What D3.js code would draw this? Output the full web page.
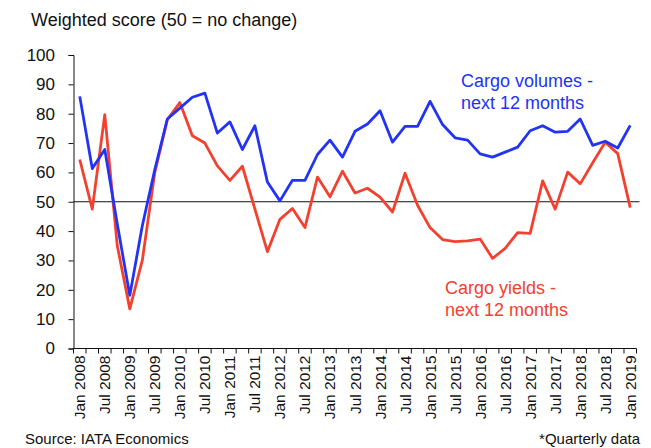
<!DOCTYPE html>
<html>
<head>
<meta charset="utf-8">
<script src="https://cdn.jsdelivr.net/npm/d3@7"></script>
<style>
  body { margin: 0; background: #fff; }
  svg text { font-family: "Liberation Sans", Arial, sans-serif; }
</style>
</head>
<body>
<svg id="chart"></svg>
<script>

// quarterly data, Jan 2008 .. Jan 2019
const quarters = [];
for (let y = 2008; y <= 2019; y++) {
    ["Jan", "Apr", "Jul", "Oct"].forEach(m => {
        if (y < 2019 || m === "Jan") quarters.push(m + " " + y);
    });
}

const volumes = [85.9, 61.3, 67.8, 42.4, 18.1, 41.8, 61, 78.2, 81.9, 85.6, 87, 73.4,
    77.2, 67.8, 75.9, 56.7, 50.3, 57.3, 57.3, 66.1, 71, 65.2, 74, 76.5,
    81, 70.3, 75.7, 75.7, 84.2, 76.3, 71.8, 71, 66.3, 65.2, 66.9, 68.6,
    74.2, 75.9, 73.7, 74, 78.2, 69.2, 70.6, 68.3, 76];

const yields = [64.4, 47.5, 79.7, 35, 13.5, 30, 60, 78, 83.8, 72.5, 70, 62.2,
    57.3, 62.1, 47.5, 33, 44, 47.7, 41.2, 58.4, 51.7, 60.4, 53, 54.6,
    51.6, 46.5, 59.7, 48.8, 41.2, 37.1, 36.4, 36.7, 37.3, 30.7, 34.1, 39.5,
    39.2, 57.1, 47.5, 60.1, 56.1, 63.3, 70.3, 66.4, 48];

const yTicks = [0, 10, 20, 30, 40, 50, 60, 70, 80, 90, 100];

function drawChart(){

    const width = 651, height = 448;
    const left = 73.5, right = 636.5, top = 55, bottom = 348.5;

    const svg = d3.select("#chart")
                  .attr("width", width)
                  .attr("height", height);

    svg.selectAll("*").remove();

    const x = d3.scaleBand()
                .domain(quarters)
                .range([left, right])
                .padding(0);

    const y = d3.scaleLinear()
                .domain([0, 100])
                .range([bottom, top]);

    const cx = q => x(q) + x.bandwidth() / 2;

    // y axis
    const yAxis = svg.append("g")
        .attr("transform", `translate(${left},0)`)
        .call(d3.axisLeft(y).tickValues(yTicks).tickSize(5).tickPadding(13.5));
    yAxis.selectAll("text").attr("font-size", 17).attr("fill", "#111");
    yAxis.selectAll("line, path").attr("stroke", "#111");

    // x axis: ticks on every quarter boundary, labels on Jan/Jul
    const xAxis = svg.append("g")
        .attr("transform", `translate(0,${bottom})`);
    xAxis.append("line")
        .attr("x1", left).attr("x2", right)
        .attr("stroke", "#111");
    const bounds = d3.range(quarters.length + 1).map(i => left + i * x.bandwidth());
    xAxis.selectAll("line.tk")
        .data(bounds)
        .join("line")
        .attr("class", "tk")
        .attr("x1", d => d).attr("x2", d => d)
        .attr("y1", 0).attr("y2", 5)
        .attr("stroke", "#111");
    xAxis.selectAll("text")
        .data(quarters.filter((q, i) => i % 2 === 0))
        .join("text")
        .attr("transform", d => `translate(${cx(d) + 5.5},7) rotate(-90)`)
        .attr("text-anchor", "end")
        .attr("font-size", 15.5)
        .attr("fill", "#111")
        .text(d => d);

    // 50 line
    svg.append("line")
        .attr("x1", left).attr("x2", right + 3)
        .attr("y1", y(50)).attr("y2", y(50))
        .attr("stroke", "#111")
        .attr("stroke-width", 1.2);

    const line = d3.line()
        .x((d, i) => cx(quarters[i]))
        .y(d => y(d));

    svg.append("path")
        .datum(yields)
        .attr("fill", "none")
        .attr("stroke", "#f2412f")
        .attr("stroke-width", 2.8)
        .attr("stroke-linejoin", "round")
        .attr("d", line);

    svg.append("path")
        .datum(volumes)
        .attr("fill", "none")
        .attr("stroke", "#2233f5")
        .attr("stroke-width", 2.8)
        .attr("stroke-linejoin", "round")
        .attr("d", line);

    // labels
    svg.append("text")
        .attr("x", 31).attr("y", 26)
        .attr("font-size", 18)
        .attr("fill", "#111")
        .text("Weighted score  (50 = no change)");

    const blue = svg.append("text")
        .attr("font-size", 18)
        .attr("fill", "#2233f5");
    blue.append("tspan").attr("x", 461).attr("y", 87).text("Cargo volumes -");
    blue.append("tspan").attr("x", 461).attr("y", 109).text("next 12 months");

    const red = svg.append("text")
        .attr("font-size", 18)
        .attr("fill", "#f2412f");
    red.append("tspan").attr("x", 445).attr("y", 294).text("Cargo yields -");
    red.append("tspan").attr("x", 445).attr("y", 316).text("next 12 months");

    svg.append("text")
        .attr("x", 25).attr("y", 444)
        .attr("font-size", 15)
        .attr("fill", "#111")
        .text("Source: IATA Economics");

    svg.append("text")
        .attr("x", 640).attr("y", 444)
        .attr("text-anchor", "end")
        .attr("font-size", 15)
        .attr("fill", "#111")
        .text("*Quarterly data");
}

drawChart();
</script>
</body>
</html>
